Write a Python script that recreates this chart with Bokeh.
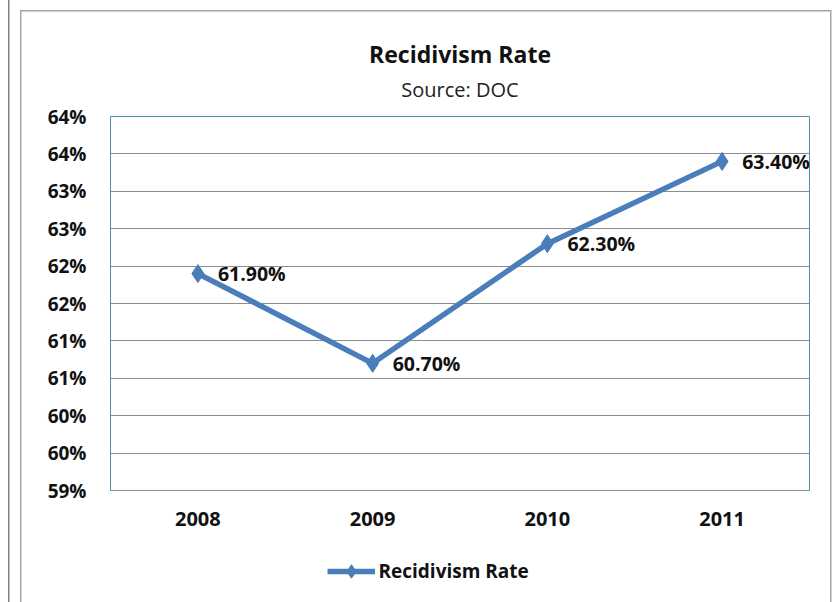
from bokeh.plotting import figure
from bokeh.layouts import column
from bokeh.models import (FixedTicker, Title, Legend, LegendItem,
                          Range1d, ColumnDataSource, LabelSet)
from bokeh.core.properties import value
from bokeh.embed import file_html
from bokeh.resources import INLINE

# ---- data ----
years = ["2008", "2009", "2010", "2011"]
rates = [61.9, 60.7, 62.3, 63.4]
rate_labels = ["61.90%", "60.70%", "62.30%", "63.40%"]
y_ticks = [59.0, 59.5, 60.0, 60.5, 61.0, 61.5, 62.0, 62.5, 63.0, 63.5, 64.0]
y_tick_labels = ["59%", "60%", "60%", "61%", "61%", "62%", "62%", "63%", "63%", "64%", "64%"]
series_name = "Recidivism Rate"
title_text = "Recidivism Rate"
subtitle_text = "Source: DOC"

FONT = "Open Sans"
BLUE = "#4A7EBB"
TEAL = "#4E8FA8"
GRID = "#8C8C8C"
TXT = "#111111"

top_css = ", ".join([
    "linear-gradient(#7F7F7F,#7F7F7F) 8px 0px / 1.5px 100% no-repeat",
    "linear-gradient(#A6A6A6,#A6A6A6) 20px 10px / 811px 1.5px no-repeat",
    "linear-gradient(#A6A6A6,#A6A6A6) 20px 10px / 1.5px 100% no-repeat",
    "linear-gradient(#A6A6A6,#A6A6A6) 830px 10px / 1.5px 100% no-repeat",
    "white",
])
bottom_css = ", ".join([
    "linear-gradient(#7F7F7F,#7F7F7F) 8px 0px / 1.5px 100% no-repeat",
    "linear-gradient(#A6A6A6,#A6A6A6) 20px 0px / 1.5px 100% no-repeat",
    "linear-gradient(#A6A6A6,#A6A6A6) 830px 0px / 1.5px 100% no-repeat",
    "white",
])

# ---- main chart ----
p = figure(x_range=years, y_range=Range1d(y_ticks[0], y_ticks[-1]),
           width=833, height=540,
           min_border_left=110, min_border_right=24,
           min_border_top=116, min_border_bottom=50,
           title=None, output_backend="svg", toolbar_location=None,
           background_fill_color="white", border_fill_color=None,
           styles={"background": top_css})

p.outline_line_color = TEAL
p.outline_line_width = 1

# titles (first added is nearest the frame); first one is only a gap
p.add_layout(Title(text=" ", align="center", text_font=FONT,
                   text_font_size="6px", standoff=0), "above")
p.add_layout(Title(text=subtitle_text, align="center",
                   text_font=FONT, text_font_size="20px", text_font_style="normal",
                   text_color="#222222", standoff=8), "above")
p.add_layout(Title(text=title_text, align="center",
                   text_font=FONT, text_font_size="23px", text_font_style="bold",
                   text_color=TXT, standoff=0), "above")

# axes
p.yaxis.ticker = FixedTicker(ticks=y_ticks)
p.yaxis.major_label_overrides = {t: l for t, l in zip(y_ticks, y_tick_labels)}
p.yaxis.axis_line_color = TEAL
p.yaxis.major_tick_line_color = None
p.yaxis.minor_tick_line_color = None
p.yaxis.major_label_standoff = 18
p.yaxis.major_label_text_font = FONT
p.yaxis.major_label_text_font_size = "19px"
p.yaxis.major_label_text_font_style = "bold"
p.yaxis.major_label_text_color = TXT

p.xaxis.axis_line_color = GRID
p.xaxis.major_tick_line_color = None
p.xaxis.minor_tick_line_color = None
p.xaxis.major_label_standoff = 15
p.xaxis.major_label_text_font = FONT
p.xaxis.major_label_text_font_size = "20px"
p.xaxis.major_label_text_font_style = "bold"
p.xaxis.major_label_text_color = TXT

p.xgrid.grid_line_color = None
p.ygrid.ticker = FixedTicker(ticks=y_ticks)
p.ygrid.grid_line_color = GRID
p.ygrid.grid_line_width = 1

src = ColumnDataSource(dict(x=years, y=rates, lab=rate_labels))
p.line("x", "y", source=src, line_width=5.5, line_color=BLUE)
p.scatter("x", "y", source=src, marker="diamond", size=18,
          fill_color=BLUE, line_color=BLUE)

labels = LabelSet(x="x", y="y", text="lab", source=src, x_offset=20,
                  text_baseline="middle", text_align="left",
                  text_font=value(FONT), text_font_size="19.5px",
                  text_font_style="bold", text_color=TXT)
p.add_layout(labels)

# ---- legend strip (same series, drawn out of view; only its legend shows) ----
p2 = figure(x_range=years, y_range=Range1d(0, 1), width=833, height=62,
            x_axis_location=None, y_axis_location=None,
            min_border=0, min_border_left=23,
            title=None, output_backend="svg", toolbar_location=None,
            background_fill_color=None, border_fill_color=None,
            outline_line_color=None, styles={"background": bottom_css})
p2.xgrid.grid_line_color = None
p2.ygrid.grid_line_color = None
ln2 = p2.line("x", "y", source=src, line_width=5.5, line_color=BLUE)
mk2 = p2.scatter("x", "y", source=src, marker="diamond", size=18,
                 fill_color=BLUE, line_color=BLUE)

legend = Legend(items=[LegendItem(label=series_name, renderers=[ln2, mk2])],
                location="center", orientation="horizontal",
                glyph_width=48, glyph_height=34, label_standoff=4,
                label_width=214,
                border_line_alpha=0, background_fill_alpha=0,
                label_text_font=FONT, label_text_font_size="19px",
                label_text_font_style="bold", label_text_color=TXT,
                margin=0, padding=0)
p2.add_layout(legend, "center")

page = column(p, p2, spacing=0)
open("out.html", "w").write(file_html(page, INLINE))
